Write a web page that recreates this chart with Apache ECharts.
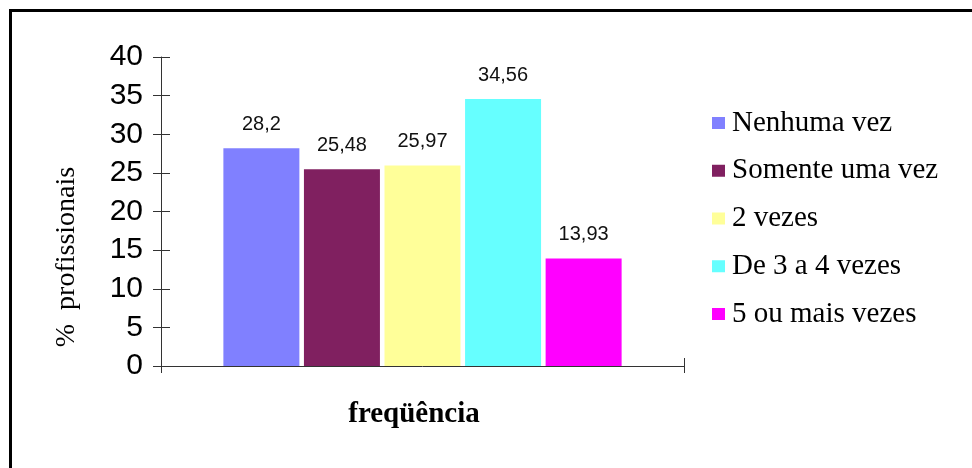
<!DOCTYPE html>
<html>
<head>
<meta charset="utf-8">
<script src="https://cdn.jsdelivr.net/npm/echarts@6/dist/echarts.min.js"></script>
<style>
  html, body { margin: 0; padding: 0; background: #fff; }
  #chart { width: 972px; height: 468px; }
</style>
</head>
<body>
<div id="chart"></div>
<script>
// Frequency groups and share of professionals (%)
const seriesNames = ['Nenhuma vez', 'Somente uma vez', '2 vezes', 'De 3 a 4 vezes', '5 ou mais vezes'];
const seriesValues = [28.2, 25.48, 25.97, 34.56, 13.93];
const seriesColors = ['#8080FF', '#802060', '#FFFF99', '#66FFFF', '#FF00FF'];
const categories = [''];
const yTicks = { min: 0, max: 40, interval: 5 };
const yAxisTitle = '%  profissionais';
const xAxisTitle = 'freqüência';

const serif = '"Liberation Serif", "Times New Roman", serif';
const sans = '"Liberation Sans", Arial, sans-serif';

const chart = echarts.init(document.getElementById('chart'), null, { renderer: 'canvas' });

const axisColor = '#333';
const series = seriesNames.map((name, i) => ({
  name: name,
  type: 'bar',
  data: [seriesValues[i]],
  barWidth: 76,
  barGap: '6%',
  itemStyle: { color: seriesColors[i] },
  label: {
    show: true,
    position: 'top',
    distance: 14,
    color: '#111',
    fontFamily: sans,
    fontSize: 20,
    formatter: p => String(p.value).replace('.', ',')
  }
}));

chart.setOption({
  animation: false,
  backgroundColor: '#fff',
  grid: { left: 161, right: 288, top: 57, bottom: 102, containLabel: false },
  xAxis: [
    {
      type: 'category',
      data: categories,
      position: 'bottom',
      axisLine: { show: true, lineStyle: { color: axisColor, width: 1 } },
      axisTick: { show: true, length: 7, lineStyle: { color: axisColor } },
      axisLabel: { show: false },
      splitLine: { show: false }
    },
    {
      type: 'category',
      data: categories,
      position: 'bottom',
      axisLine: { show: false },
      axisTick: { show: true, inside: true, length: 8, lineStyle: { color: axisColor } },
      axisLabel: { show: false },
      splitLine: { show: false }
    }
  ],
  yAxis: [
    {
      type: 'value',
      min: yTicks.min,
      max: yTicks.max,
      interval: yTicks.interval,
      position: 'left',
      axisLine: { show: true, lineStyle: { color: axisColor, width: 1 } },
      axisTick: { show: true, length: 8, lineStyle: { color: axisColor } },
      axisLabel: {
        margin: 18,
        color: '#000',
        fontFamily: sans,
        fontSize: 30
      },
      splitLine: { show: false }
    },
    {
      type: 'value',
      min: yTicks.min,
      max: yTicks.max,
      interval: yTicks.interval,
      position: 'left',
      axisLine: { show: false },
      axisTick: { show: true, inside: true, length: 9, lineStyle: { color: axisColor } },
      axisLabel: { show: false },
      splitLine: { show: false }
    }
  ],
  legend: {
    orient: 'vertical',
    left: 707,
    top: 101,
    itemWidth: 13,
    itemHeight: 12,
    itemGap: 13.75,
    icon: 'rect',
    selectedMode: false,
    data: seriesNames,
    textStyle: {
      color: '#000',
      fontFamily: serif,
      fontSize: 29,
      lineHeight: 34,
      padding: [0, 0, 0, 2]
    }
  },
  graphic: [
    {
      type: 'rect',
      silent: true,
      shape: { x: 10.5, y: 10.5, width: 1400, height: 1400 },
      style: { fill: 'none', stroke: '#000', lineWidth: 3 }
    },
    {
      type: 'text',
      silent: true,
      x: 67,
      y: 257,
      rotation: Math.PI / 2,
      style: {
        text: yAxisTitle,
        fill: '#000',
        font: '28px ' + serif,
        textAlign: 'center',
        textVerticalAlign: 'middle'
      }
    },
    {
      type: 'text',
      silent: true,
      x: 414,
      y: 415,
      style: {
        text: xAxisTitle,
        fill: '#000',
        font: 'bold 29px ' + serif,
        textAlign: 'center',
        textVerticalAlign: 'middle'
      }
    }
  ],
  series: series
});
</script>
</body>
</html>
